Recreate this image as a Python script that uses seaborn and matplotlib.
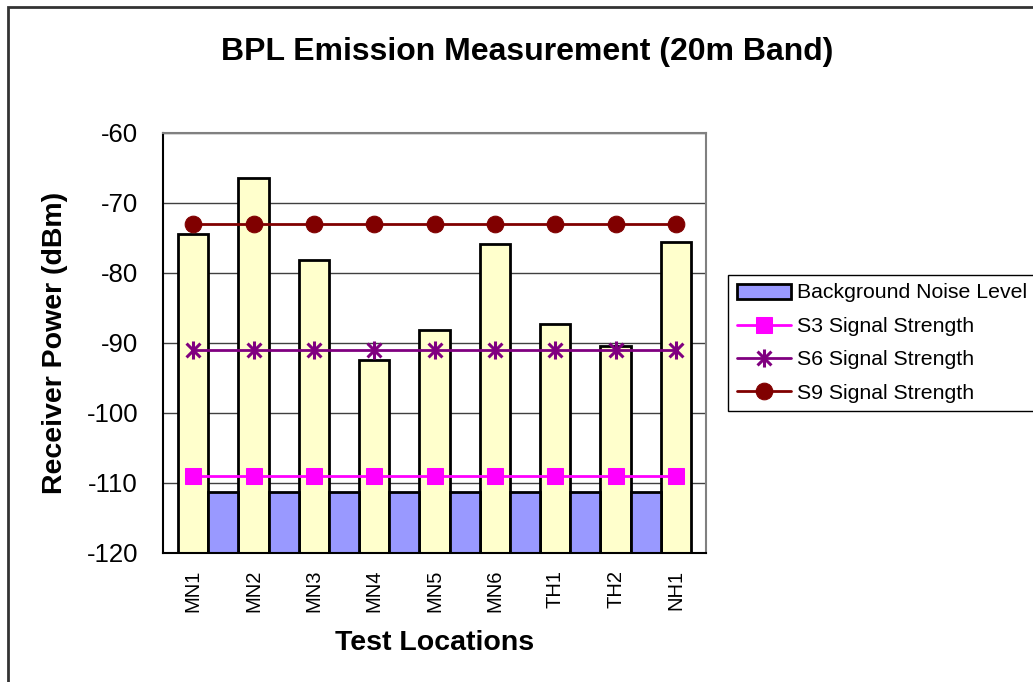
import numpy as np
import pandas as pd
import matplotlib.pyplot as plt
import seaborn as sns
from matplotlib.patches import Patch, Rectangle
from matplotlib.path import Path

# values (dBm)
locations = ["MN1", "MN2", "MN3", "MN4", "MN5", "MN6", "TH1", "TH2", "NH1"]
bpl_emission = [-74.4, -66.4, -78.1, -92.4, -88.1, -75.8, -87.3, -90.4, -75.5]
noise_locations = ["MN1", "MN2", "MN3", "MN4", "MN5", "MN6", "TH1", "TH2"]
noise_level = [-111.3, -111.3, -111.3, -111.3, -111.3, -111.3, -111.3, -111.3]
s3_strength = [-109, -109, -109, -109, -109, -109, -109, -109, -109]
s6_strength = [-91, -91, -91, -91, -91, -91, -91, -91, -91]
s9_strength = [-73, -73, -73, -73, -73, -73, -73, -73, -73]
y_ticks = [-120, -110, -100, -90, -80, -70, -60]
floor = -120

# Excel-style star: an X with a vertical stroke
STAR = Path([(-1, -1), (1, 1), (-1, 1), (1, -1), (0, -1.3), (0, 1.3)],
            [Path.MOVETO, Path.LINETO, Path.MOVETO, Path.LINETO, Path.MOVETO, Path.LINETO])


def main():
    sns.set_style("white")
    plt.rcParams["font.family"] = ["Liberation Sans", "DejaVu Sans"]
    plt.rcParams["axes.unicode_minus"] = False
    plt.rcParams["text.color"] = "black"
    plt.rcParams["xtick.color"] = "black"
    plt.rcParams["ytick.color"] = "black"

    W, H = 1033, 682
    fig, ax = plt.subplots(figsize=(W / 100, H / 100), dpi=100)
    fig.subplots_adjust(left=163 / W, right=706 / W, bottom=1 - 553 / H, top=1 - 133 / H)

    df = pd.concat([
        pd.DataFrame({"location": locations, "series": "Emission", "value": bpl_emission}),
        pd.DataFrame({"location": noise_locations, "series": "Noise", "value": noise_level}),
    ], ignore_index=True)
    df["height"] = df["value"] - floor

    sns.barplot(data=df, x="location", y="height", hue="series", order=locations,
                hue_order=["Emission", "Noise"],
                palette={"Emission": "#FFFFCC", "Noise": "#9999FF"}, saturation=1,
                width=1.0, dodge=True, gap=0, errorbar=None, bottom=floor,
                edgecolor="black", linewidth=2, legend=False, ax=ax)

    xpos = np.arange(len(locations)) - 0.25
    sns.lineplot(x=xpos, y=s3_strength, color="#FF00FF", marker="s", markersize=11,
                 markeredgecolor="#FF00FF", linewidth=2, label="S3 Signal Strength", ax=ax)
    sns.lineplot(x=xpos, y=s6_strength, color="#800080", marker=STAR, markersize=13,
                 fillstyle="none", markeredgecolor="#800080", markeredgewidth=2.2,
                 linewidth=2, label="S6 Signal Strength", ax=ax)
    sns.lineplot(x=xpos, y=s9_strength, color="#800000", marker="o", markersize=12,
                 markeredgecolor="#800000", linewidth=2, label="S9 Signal Strength", ax=ax)

    ax.set_ylim(-120, -60)
    ax.set_yticks(y_ticks)
    ax.set_xlim(-0.75, len(locations) - 0.75)
    ax.set_xticks(xpos, labels=locations, rotation=90, fontsize=14.5)
    ax.set_xticks(np.arange(-0.75, len(locations), 1.0), minor=True)
    ax.tick_params(axis="x", which="major", length=0, pad=12)
    ax.tick_params(axis="x", which="minor", length=6, width=1.2, direction="out")
    ax.tick_params(axis="y", direction="in", length=7, width=1.2, labelsize=18.5, pad=18)
    ax.set_axisbelow(True)
    ax.yaxis.grid(True, color="#404040", linewidth=1)
    ax.xaxis.grid(False)
    ax.set_xlabel("")
    ax.set_ylabel("")
    for side in ["left", "bottom"]:
        ax.spines[side].set_color("black")
        ax.spines[side].set_linewidth(1.5)
    for side in ["top", "right"]:
        ax.spines[side].set_color("#808080")
        ax.spines[side].set_linewidth(1.5)

    fig.text(527 / W, 1 - 52 / H, "BPL Emission Measurement (20m Band)",
             fontsize=23, fontweight="bold", ha="center", va="center")
    fig.text(55 / W, 1 - 343 / H, "Receiver Power (dBm)", fontsize=20.5,
             fontweight="bold", rotation=90, ha="center", va="center")
    fig.text(434.5 / W, 1 - 643 / H, "Test Locations", fontsize=20.5,
             fontweight="bold", ha="center", va="center")

    handles, labels = ax.get_legend_handles_labels()
    by_label = dict(zip(labels, handles))
    noise_patch = Patch(facecolor="#9999FF", edgecolor="black", linewidth=2)
    leg_labels = ["Background Noise Level", "S3 Signal Strength",
                  "S6 Signal Strength", "S9 Signal Strength"]
    leg_handles = [noise_patch] + [by_label[l] for l in leg_labels[1:]]
    leg = ax.legend(leg_handles, leg_labels, loc="upper left",
                    bbox_to_anchor=(728 / W, 1 - 275 / H), bbox_transform=fig.transFigure,
                    fontsize=15.3, frameon=True, fancybox=False, edgecolor="black",
                    framealpha=1, borderaxespad=0, borderpad=0.4, handlelength=2.55,
                    handletextpad=0.3, labelspacing=0.68)
    leg.get_frame().set_linewidth(1)

    # chart area border (only left/top edges visible in frame)
    fig.add_artist(Rectangle((8 / W, -0.5), 2, 1.5 - 7 / H, transform=fig.transFigure,
                             fill=False, edgecolor="#333333", linewidth=2))

    fig.savefig("out.png", dpi=100)
    plt.close(fig)


if __name__ == "__main__":
    main()
